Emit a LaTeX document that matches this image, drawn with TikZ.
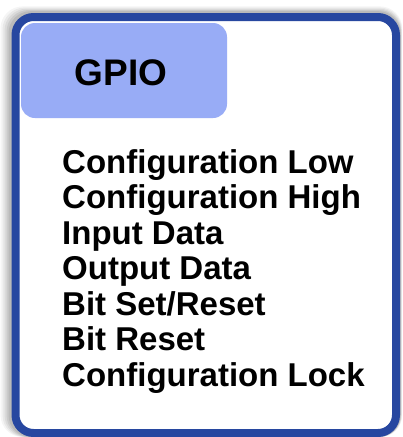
\documentclass[tikz,border=0pt]{standalone}
\usepackage{fontspec}
\setmainfont{Liberation Sans}
\definecolor{bordercol}{HTML}{2747A0}
\definecolor{headcol}{HTML}{98ACF6}
\tikzset{
  frame/.style={draw=bordercol, line width=8pt, rounded corners=18pt, fill=white, minimum width=380.5pt, minimum height=416pt, inner sep=0pt, outer sep=0pt},
  header/.style={fill=headcol, rounded corners=14pt, minimum width=206pt, minimum height=95pt, inner sep=0pt},
  title/.style={font=\fontsize{37}{42}\selectfont\bfseries, inner sep=0pt},
  item/.style={font=\fontsize{33}{37}\selectfont\bfseries, inner sep=0pt, anchor=base west}
}
\begin{document}
\begin{tikzpicture}[x=1pt,y=-1pt]
\useasboundingbox (0,0) rectangle (403,437);
\fill[white] (0,0) rectangle (403,437);
% soft shadow
\foreach \d/\o in {11/0.04,9/0.05,7/0.06,5/0.07,3/0.08}{
  \fill[black, opacity=\o, rounded corners=22pt] (11.5-\d,13-\d*0.6) rectangle (400+\d*0.2,437);
}
\node[frame] (box) at (205.75,225) {};
\node[header] (head) at (124,70.5) {};
\node[title] (gpio) at (121,73) {GPIO};
\node[item] (l1) at (62,173) {Configuration Low};
\node[item] (l2) at (62,208.5) {Configuration High};
\node[item] (l3) at (62,244) {Input Data};
\node[item] (l4) at (62,279.5) {Output Data};
\node[item] (l5) at (62,315) {Bit Set/Reset};
\node[item] (l6) at (62,350.5) {Bit Reset};
\node[item] (l7) at (62,386) {Configuration Lock};
\end{tikzpicture}
\end{document}
